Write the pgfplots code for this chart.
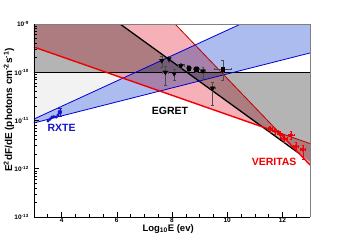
\documentclass[border=0pt]{standalone}
\usepackage{fontspec}
\setmainfont{Liberation Sans}
\usepackage{pgfplots}
\pgfplotsset{compat=1.18}
\definecolor{egrey}{RGB}{180,180,180}
\definecolor{lgrey}{RGB}{242,242,242}
\definecolor{vpink}{RGB}{245,176,184}
\definecolor{rblue}{RGB}{172,188,238}
\definecolor{dred}{RGB}{190,0,0}
\definecolor{bred}{RGB}{240,0,0}
\definecolor{dblue}{RGB}{0,0,210}
\definecolor{lblue}{RGB}{20,20,200}

\pgfplotstableread{
x y xe yp ym
7.63 1.75e-10 0.0 0.45e-10 0.45e-10
7.89 1.90e-10 0.0 0.30e-10 0.30e-10
7.76 1.00e-10 0.12 0.35e-10 0.45e-10
8.08 0.94e-10 0.0 0.20e-10 0.25e-10
8.33 1.37e-10 0.1 0.15e-10 0.15e-10
9.12 1.07e-10 0.1 0.20e-10 0.30e-10
9.47 4.70e-11 0.1 1.60e-11 2.60e-11
}\egrettri

\pgfplotstableread{
x y xe yp ym
8.60 1.22e-10 0.1 0.15e-10 0.15e-10
8.88 1.17e-10 0.1 0.15e-10 0.15e-10
9.84 1.17e-10 0.3 0.60e-10 0.50e-10
}\egretsq

\pgfplotstableread{
x y xe yp ym
11.55 6.8e-12 0.08 1.0e-12 1.0e-12
11.73 6.0e-12 0.10 0.9e-12 0.9e-12
11.91 5.2e-12 0.10 0.8e-12 0.8e-12
12.06 4.2e-12 0.10 0.7e-12 0.7e-12
12.31 5.0e-12 0.10 0.9e-12 0.9e-12
12.49 2.9e-12 0.10 0.6e-12 0.6e-12
12.74 2.5e-12 0.10 0.6e-12 0.9e-12
}\veritas

\begin{document}
\begin{tikzpicture}
\path[use as bounding box] (-34pt,-25pt) rectangle (305pt,217pt);
\begin{axis}[
  at={(0,0)}, anchor=south west,
  scale only axis, width=276pt, height=193pt,
  xmin=3, xmax=13, ymin=1e-13, ymax=1e-9, ymode=log,
  clip mode=individual,
  axis line style={draw=none},
  tick align=inside, tick pos=left,
  major tick length=5pt, minor tick length=2.8pt,
  tick style={black, line width=0.6pt},
  xtick={4,6,8,10,12}, xticklabels={4,6,8,10,12},
  minor xtick={3.5,4.5,5,5.5,6.5,7,7.5,8.5,9,9.5,10.5,11,11.5,12.5},
  ytick={1e-13,1e-12,1e-11,1e-10,1e-9},
  yticklabels={10\textsuperscript{-13},10\textsuperscript{-12},10\textsuperscript{-11},10\textsuperscript{-10},10\textsuperscript{-9}},
  minor ytick={2e-13,3e-13,4e-13,5e-13,6e-13,7e-13,8e-13,9e-13,
               2e-12,3e-12,4e-12,5e-12,6e-12,7e-12,8e-12,9e-12,
               2e-11,3e-11,4e-11,5e-11,6e-11,7e-11,8e-11,9e-11,
               2e-10,3e-10,4e-10,5e-10,6e-10,7e-10,8e-10,9e-10},
  xticklabel style={font=\bfseries\fontsize{6.5}{7}\selectfont, inner sep=1pt},
  yticklabel style={font=\bfseries\fontsize{6.5}{7}\selectfont, inner sep=1pt, xshift=-4pt},
  xlabel={\textbf{Log\textsubscript{10}E (ev)}},
  xlabel style={font=\fontsize{9.5}{11}\selectfont, at={(rel axis cs:0.486,0)}, anchor=north, inner sep=0pt, yshift=-7pt},
]
% fills
\addplot[fill=lgrey, draw=none, blend mode=multiply] coordinates {(3,1e-10) (6.68,1e-10) (3,1.074e-11)} -- cycle;
\addplot[fill=egrey, draw=none, blend mode=multiply] coordinates {(3,1e-10) (8.54,1e-10) (6.12,1e-9) (3,1e-9)} -- cycle;
\addplot[fill=egrey, draw=none, blend mode=multiply] coordinates {(8.54,1e-10) (13,1e-10) (13,1.41e-12)} -- cycle;
\addplot[fill=vpink, draw=none, blend mode=multiply] coordinates {(3,3.33e-10) (11.89,5.56e-12) (8.11,1e-9) (3,1e-9)} -- cycle;
\addplot[fill=vpink, draw=none, blend mode=multiply] coordinates {(11.89,5.56e-12) (13,3.33e-12) (13,1.2e-12)} -- cycle;
\addplot[fill=rblue, draw=none, blend mode=multiply] coordinates {(3,1.074e-11) (10.49,1e-9) (13,1e-9) (13,2.51e-10) (3,8.91e-12)} -- cycle;
% lines
\addplot[black, line width=1.3pt] coordinates {(3,1e-10) (13,1e-10)};
\addplot[black, line width=1.3pt] coordinates {(6.12,1e-9) (12.6,2.09e-12)};
\addplot[dblue, line width=0.8pt] coordinates {(3,1.074e-11) (10.49,1e-9)};
\addplot[dblue, line width=0.8pt] coordinates {(3,8.91e-12) (13,2.51e-10)};
\addplot[dred, line width=0.8pt] coordinates {(8.11,1e-9) (11.89,5.56e-12) (13,3.33e-12)};
\addplot[bred, line width=1.4pt] coordinates {(3,3.33e-10) (11.89,5.56e-12) (13,1.2e-12)};
% EGRET
\addplot[only marks, mark=triangle*, mark size=2.6pt, mark options={rotate=180, black, fill=black},
  error bars/.cd, y dir=both, y explicit, x dir=both, x explicit,
  error bar style={black!70, line width=0.5pt}, error mark options={rotate=90, mark size=1.3pt, black!70}]
  table[x=x, y=y, x error=xe, y error plus=yp, y error minus=ym] {\egrettri};
\addplot[only marks, mark=square*, mark size=1.8pt, mark options={black, fill=black},
  error bars/.cd, y dir=both, y explicit, x dir=both, x explicit,
  error bar style={black!70, line width=0.5pt}, error mark options={rotate=90, mark size=1.3pt, black!70}]
  table[x=x, y=y, x error=xe, y error plus=yp, y error minus=ym] {\egretsq};
% VERITAS
\addplot[only marks, mark=*, mark size=1.9pt, mark options={bred, fill=bred},
  error bars/.cd, y dir=both, y explicit, x dir=both, x explicit,
  error bar style={bred, line width=0.4pt}, error mark options={rotate=90, mark size=1.2pt, bred}]
  table[x=x, y=y, x error=xe, y error plus=yp, y error minus=ym] {\veritas};
% RXTE
\addplot[lblue, line width=1pt, mark=*, mark size=1pt, mark options={lblue}] coordinates {
 (3.51,9.8e-12) (3.58,1.07e-11) (3.65,1.18e-11) (3.72,1.2e-11) (3.80,1.18e-11) (3.87,1.3e-11) (3.94,1.5e-11)};
\addplot[only marks, mark=none, lblue, error bars/.cd, y dir=both, y explicit, error bar style={lblue, line width=0.4pt}]
 coordinates {(3.94,1.5e-11) +- (0,0.3e-11)};
% labels
\node[font=\bfseries\fontsize{10.5}{12}\selectfont, text=lblue] at (axis cs:4.0,7.0e-12) {RXTE};
\node[font=\bfseries\fontsize{10.5}{12}\selectfont, text=black] at (axis cs:7.93,1.58e-11) {EGRET};
\node[font=\bfseries\fontsize{10.5}{12}\selectfont, text=bred] at (axis cs:11.70,1.38e-12) {VERITAS};
% frame
\draw[gray, line width=0.6pt] (rel axis cs:0,1) -- (rel axis cs:1,1) -- (rel axis cs:1,0);
\draw[black, line width=0.9pt] (rel axis cs:0,1) -- (rel axis cs:0,0) -- (rel axis cs:1,0);
\end{axis}
\node[rotate=90, inner sep=0pt, font=\bfseries\fontsize{10}{12}\selectfont] at (-25pt,107pt)
  {E\textsuperscript{2}dF/dE (photons cm\textsuperscript{-2}s\textsuperscript{-1})};
\end{tikzpicture}
\end{document}
